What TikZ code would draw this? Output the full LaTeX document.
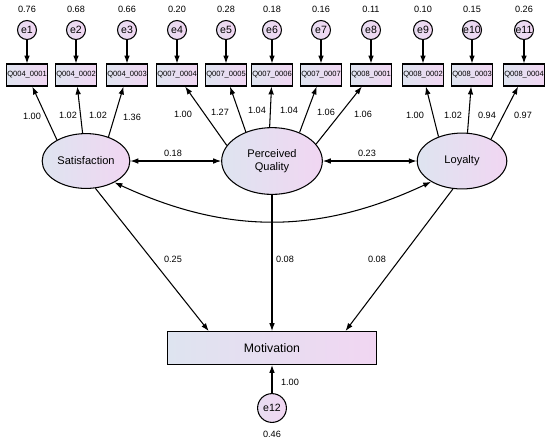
\documentclass[tikz,border=0pt]{standalone}
\usepackage{fontspec}
\setmainfont{Liberation Sans}
\usetikzlibrary{shapes.geometric}
\usetikzlibrary{arrows.meta}

\definecolor{semleft}{RGB}{222,228,240}
\definecolor{semright}{RGB}{241,214,242}

\begin{document}
\begin{tikzpicture}[x=0.02cm, y=-0.02cm, line width=0.6pt,
    >={Latex[length=4.5pt,width=3.2pt]},
    errc/.style={circle, draw, inner sep=0pt, minimum size=10.8pt,
        left color=semleft!50!semright, right color=semright,
        font=\fontsize{6}{7}\selectfont},
    item/.style={rectangle, draw, inner sep=0pt, minimum width=23.8pt,
        minimum height=12.5pt, left color=semleft, right color=semright,
        font=\fontsize{4.3}{5}\selectfont},
    latent/.style={ellipse, draw, inner sep=0pt, align=center,
        left color=semleft, right color=semright,
        font=\fontsize{6.3}{7.6}\selectfont},
    num/.style={inner sep=0pt, font=\fontsize{5.2}{6}\selectfont}]

    \useasboundingbox (0,0) rectangle (550,444);

    % Error terms of the items
    \node [errc] (e1) at (27,30) {e1};
    \node [errc] (e2) at (76,30) {e2};
    \node [errc] (e3) at (127,30) {e3};
    \node [errc] (e4) at (177,30) {e4};
    \node [errc] (e5) at (226,30) {e5};
    \node [errc] (e6) at (272,30) {e6};
    \node [errc] (e7) at (321,30) {e7};
    \node [errc] (e8) at (371,30) {e8};
    \node [errc] (e9) at (423,30) {e9};
    \node [errc] (e10) at (472,30) {e10};
    \node [errc] (e11) at (524,30) {e11};

    % Variances
    \node [num] (v1) at (27,9) {0.76};
    \node [num] (v2) at (76,9) {0.68};
    \node [num] (v3) at (127,9) {0.66};
    \node [num] (v4) at (177,9) {0.20};
    \node [num] (v5) at (226,9) {0.28};
    \node [num] (v6) at (272,9) {0.18};
    \node [num] (v7) at (321,9) {0.16};
    \node [num] (v8) at (371,9) {0.11};
    \node [num] (v9) at (423,9) {0.10};
    \node [num] (v10) at (472,9) {0.15};
    \node [num] (v11) at (524,9) {0.26};

    % Observed items
    \node [item] (q1) at (27,75) {Q004\_0001};
    \node [item] (q2) at (76,75) {Q004\_0002};
    \node [item] (q3) at (127,75) {Q004\_0003};
    \node [item] (q4) at (177,75) {Q007\_0004};
    \node [item] (q5) at (226,75) {Q007\_0005};
    \node [item] (q6) at (272,75) {Q007\_0006};
    \node [item] (q7) at (321,75) {Q007\_0007};
    \node [item] (q8) at (371,75) {Q008\_0001};
    \node [item] (q9) at (423,75) {Q008\_0002};
    \node [item] (q10) at (472,75) {Q008\_0003};
    \node [item] (q11) at (524,75) {Q008\_0004};

    % Error arrows
    \draw [->] (e1) -- (q1);
    \draw [->] (e2) -- (q2);
    \draw [->] (e3) -- (q3);
    \draw [->] (e4) -- (q4);
    \draw [->] (e5) -- (q5);
    \draw [->] (e6) -- (q6);
    \draw [->] (e7) -- (q7);
    \draw [->] (e8) -- (q8);
    \draw [->] (e9) -- (q9);
    \draw [->] (e10) -- (q10);
    \draw [->] (e11) -- (q11);

    % Latent factors
    \node [latent, minimum width=49.9pt, minimum height=31.2pt] (sat) at (86,161) {Satisfaction};
    \node [latent, minimum width=57.3pt, minimum height=38pt] (pq) at (272,161) {Perceived\\Quality};
    \node [latent, minimum width=51pt, minimum height=31.8pt] (loy) at (462,161) {Loyalty};

    % Loadings
    \draw [->] (sat.144) -- (q1);
    \draw [->] (sat.97) -- (q2);
    \draw [->] (sat.47) -- (q3);
    \draw [->] (pq.161) -- (q4);
    \draw [->] (pq.132) -- (q5);
    \draw [->] (pq.94) -- (q6);
    \draw [->] (pq.46) -- (q7);
    \draw [->] (pq.21) -- (q8);
    \draw [->] (loy.134) -- (q9);
    \draw [->] (loy.79) -- (q10);
    \draw [->] (loy.37) -- (q11);

    \node [num] (l1) at (32,116) {1.00};
    \node [num] (l2) at (68,115) {1.02};
    \node [num] (l3) at (98,115) {1.02};
    \node [num] (l4) at (132,117) {1.36};
    \node [num] (l5) at (183,114) {1.00};
    \node [num] (l6) at (220,112) {1.27};
    \node [num] (l7) at (257,110) {1.04};
    \node [num] (l8) at (289,110) {1.04};
    \node [num] (l9) at (326,112) {1.06};
    \node [num] (l10) at (363,114) {1.06};
    \node [num] (l11) at (415,115) {1.00};
    \node [num] (l12) at (453,115) {1.02};
    \node [num] (l13) at (487,115) {0.94};
    \node [num] (l14) at (523,115) {0.97};

    % Covariances
    \draw [<->] (sat) -- (pq);
    \draw [<->] (pq) -- (loy);
    \draw [<->] (sat.-37) to [bend right=25] (loy.214);
    \node [num] (c1) at (173,153) {0.18};
    \node [num] (c2) at (367,153) {0.23};

    % Outcome
    \node [rectangle, draw, inner sep=0pt, minimum width=118.5pt, minimum height=18.7pt,
        left color=semleft, right color=semright, font=\fontsize{7}{8}\selectfont]
        (mot) at (272,348) {Motivation};
    \node [errc, minimum size=16.4pt] (e12) at (272,408) {e12};

    \draw [->] (sat.-71) -- (mot.165);
    \draw [->] (pq) -- (mot);
    \draw [->] (loy.252) -- (mot.13);
    \draw [->] (e12) -- (mot);

    \node [num] (p1) at (173,259) {0.25};
    \node [num] (p2) at (285,259) {0.08};
    \node [num] (p3) at (377,259) {0.08};
    \node [num] (p4) at (290,382) {1.00};
    \node [num] (v12) at (272,434) {0.46};
\end{tikzpicture}
\end{document}
